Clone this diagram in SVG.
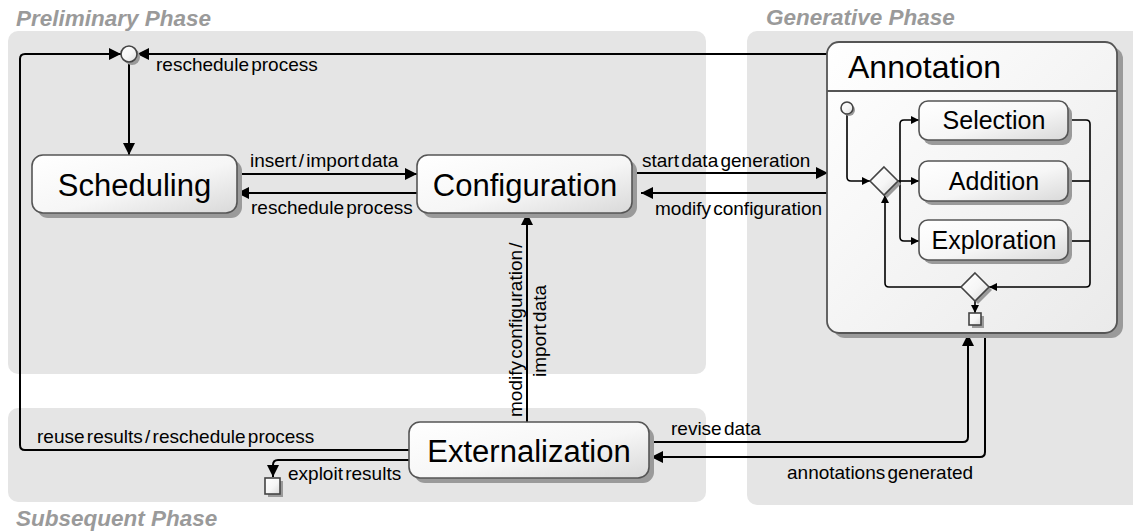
<svg xmlns="http://www.w3.org/2000/svg" width="1133" height="531" viewBox="0 0 1133 531">
<defs>
<linearGradient id="g" x1="0" y1="0" x2="1" y2="1">
<stop offset="0" stop-color="#ffffff"/>
<stop offset="0.55" stop-color="#f6f6f6"/>
<stop offset="1" stop-color="#d9d9d9"/>
</linearGradient>
<linearGradient id="ga" x1="0" y1="0" x2="1" y2="1">
<stop offset="0" stop-color="#ffffff"/>
<stop offset="1" stop-color="#eaeaea"/>
</linearGradient>
<marker id="ah" viewBox="0 0 10 10" refX="10" refY="5" markerWidth="12" markerHeight="12" markerUnits="userSpaceOnUse" orient="auto">
<path d="M0,0 L10,5 L0,10 Z" fill="#000"/>
</marker>
<marker id="as" viewBox="0 0 10 10" refX="10" refY="5" markerWidth="8" markerHeight="8" markerUnits="userSpaceOnUse" orient="auto">
<path d="M0,0 L10,5 L0,10 Z" fill="#000"/>
</marker>
</defs>
<style>
.phase{fill:#e5e5e5}
.ptitle{font-family:"Liberation Sans",Arial,sans-serif;font-size:22.5px;font-weight:bold;font-style:italic;fill:#9a9a9a}
.sh{fill:#9a9a9a}
.node{fill:url(#g);stroke:#555;stroke-width:1.6}
.ntext{font-family:"Liberation Sans",Arial,sans-serif;font-size:31px;fill:#000}
.stext{font-family:"Liberation Sans",Arial,sans-serif;font-size:25px;fill:#000}
.lbl{font-family:"Liberation Sans",Arial,sans-serif;font-size:19px;fill:#000;word-spacing:-3px}
.c{fill:none;stroke:#000;stroke-width:2}
.ci{fill:none;stroke:#000;stroke-width:1.6}
.pt{fill:url(#g);stroke:#444;stroke-width:1.6}
</style>

<g id="phases">
<rect class="phase" x="8" y="31" width="698" height="343" rx="10"/>
<rect class="phase" x="747" y="31" width="400" height="474" rx="10"/>
<rect class="phase" x="8" y="408" width="698" height="94" rx="10"/>
<text class="ptitle" x="16" y="26">Preliminary Phase</text>
<text class="ptitle" x="766" y="25">Generative Phase</text>
<text class="ptitle" x="16" y="526">Subsequent Phase</text>
</g>

<g id="connectors">
<!-- top reschedule loop -->
<path class="c" d="M827,54 L137,54" marker-end="url(#ah)"/>
<path class="c" d="M409,450 L25,450 Q20,450 20,445 L20,59 Q20,54 25,54 L121,54" marker-end="url(#ah)"/>
<path class="c" d="M129,62 L129,155" marker-end="url(#ah)"/>
<text class="lbl" x="156" y="71">reschedule process</text>
<text class="lbl" x="37" y="443">reuse results / reschedule process</text>
<!-- scheduling <-> configuration -->
<path class="c" d="M237,174 L417,174" marker-end="url(#ah)"/>
<text class="lbl" x="250" y="167">insert / import data</text>
<path class="c" d="M417,193 L237,193" marker-end="url(#ah)"/>
<text class="lbl" x="251" y="214">reschedule process</text>
<!-- configuration <-> annotation -->
<path class="c" d="M632,173 L828,173" marker-end="url(#ah)"/>
<text class="lbl" x="642" y="167">start data generation</text>
<path class="c" d="M828,193 L641,193" marker-end="url(#ah)"/>
<text class="lbl" x="655" y="215">modify configuration</text>
<!-- externalization -> configuration -->
<path class="c" d="M527,422 L527,213" marker-end="url(#ah)"/>
<text class="lbl" transform="translate(522,417) rotate(-90)">modify configuration /</text>
<text class="lbl" transform="translate(546,377) rotate(-90)">import data</text>
<!-- externalization <-> annotation -->
<path class="c" d="M649,442 L963,442 Q968,442 968,437 L968,334" marker-end="url(#ah)"/>
<text class="lbl" x="671" y="435">revise data</text>
<path class="c" d="M985,334 L985,452 Q985,457 980,457 L651,457" marker-end="url(#ah)"/>
<text class="lbl" x="787" y="479">annotations generated</text>
<!-- exploit results -->
<path class="c" d="M409,460 L278,460 Q273,460 273,465 L273,477" marker-end="url(#ah)"/>
<text class="lbl" x="288" y="480">exploit results</text>
</g>

<g id="merge-top">
<circle cx="132" cy="57" r="8" class="sh"/>
<circle cx="129" cy="54" r="8" class="pt"/>
</g>

<g id="scheduling">
<rect class="sh" x="37" y="160" width="205" height="58" rx="11"/>
<rect class="node" x="32" y="155" width="205" height="58" rx="11"/>
<text class="ntext" x="134.5" y="196" text-anchor="middle">Scheduling</text>
</g>

<g id="configuration">
<rect class="sh" x="422" y="160" width="215" height="58" rx="11"/>
<rect class="node" x="417" y="155" width="215" height="58" rx="11"/>
<text class="ntext" x="525" y="196" text-anchor="middle">Configuration</text>
</g>

<g id="externalization">
<rect class="sh" x="414" y="427" width="240" height="56" rx="11"/>
<rect class="node" x="409" y="422" width="240" height="56" rx="11"/>
<text class="ntext" x="529" y="462" text-anchor="middle">Externalization</text>
</g>

<g id="exploit-end">
<rect class="sh" x="268" y="481" width="15" height="16"/>
<rect class="pt" x="265" y="478" width="15" height="16"/>
</g>

<g id="annotation">
<rect class="sh" x="833" y="47" width="290" height="291" rx="12"/>
<rect x="827" y="42" width="290" height="291" rx="12" fill="url(#ga)" stroke="#555" stroke-width="1.8"/>
<line x1="827" y1="91" x2="1117" y2="91" stroke="#555" stroke-width="1.8"/>
<text class="ntext" x="848" y="78" style="font-size:32px">Annotation</text>

<g id="inner-connectors">
<path class="ci" d="M847,114 L847,177 Q847,181 851,181 L870,181" marker-end="url(#as)"/>
<path class="ci" d="M898,181 L919,181" marker-end="url(#as)"/>
<path class="ci" d="M900,181 L900,124 Q900,120 904,120 L919,120" marker-end="url(#as)"/>
<path class="ci" d="M900,181 L900,237 Q900,241 904,241 L919,241" marker-end="url(#as)"/>
<path class="ci" d="M1068,120 L1086,120 Q1090,120 1090,124 L1090,283 Q1090,287 1086,287 L989,287" marker-end="url(#as)"/>
<path class="ci" d="M1068,181 L1090,181"/>
<path class="ci" d="M1068,241 L1090,241"/>
<path class="ci" d="M961,287 L889,287 Q885,287 885,283 L885,195" marker-end="url(#as)"/>
<path class="ci" d="M975,301 L975,313" marker-end="url(#as)"/>
</g>

<g id="start">
<circle cx="849" cy="110" r="6" class="sh"/>
<circle cx="847" cy="108" r="6" class="pt"/>
</g>
<g id="decision">
<path class="sh" d="M887,170 L901,184 L887,198 L873,184 Z"/>
<path class="pt" d="M884,167 L898,181 L884,195 L870,181 Z"/>
</g>
<g id="merge">
<path class="sh" d="M978,276 L992,290 L978,304 L964,290 Z"/>
<path class="pt" d="M975,273 L989,287 L975,301 L961,287 Z"/>
</g>
<g id="end">
<rect class="sh" x="972" y="316" width="12" height="12"/>
<rect class="pt" x="969" y="313" width="12" height="12"/>
</g>
<g id="selection">
<rect class="sh" x="923" y="105" width="149" height="40" rx="9"/>
<rect class="node" x="919" y="101" width="149" height="39" rx="9"/>
<text class="stext" x="994" y="129" text-anchor="middle">Selection</text>
</g>
<g id="addition">
<rect class="sh" x="923" y="165" width="149" height="40" rx="9"/>
<rect class="node" x="919" y="161" width="149" height="40" rx="9"/>
<text class="stext" x="994" y="190" text-anchor="middle">Addition</text>
</g>
<g id="exploration">
<rect class="sh" x="923" y="224" width="149" height="40" rx="9"/>
<rect class="node" x="919" y="220" width="149" height="40" rx="9"/>
<text class="stext" x="994" y="249" text-anchor="middle">Exploration</text>
</g>
</g>
</svg>
